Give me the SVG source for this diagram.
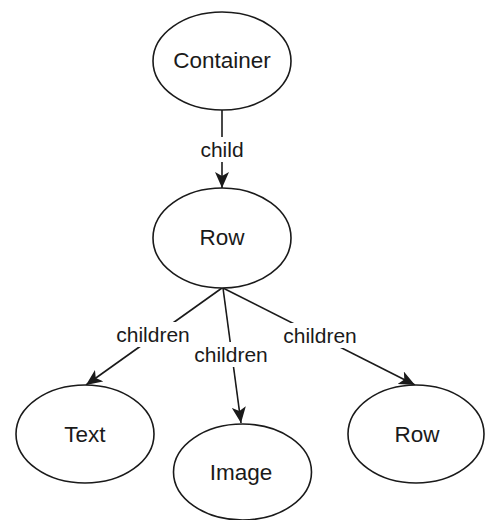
<svg xmlns="http://www.w3.org/2000/svg" width="486" height="520" viewBox="0 0 486 520">
  <style>
    .node ellipse { fill: #ffffff; stroke: #1a1a1a; stroke-width: 1.6; }
    .node text { font-family: "Liberation Sans", Arial, sans-serif; font-size: 22.5px; fill: #1a1a1a; text-anchor: middle; }
    .edge { stroke: #1a1a1a; stroke-width: 1.6; fill: none; marker-end: url(#arrow); }
    .lbl-bg { fill: #ffffff; }
    .lbl { font-family: "Liberation Sans", Arial, sans-serif; font-size: 21px; fill: #1a1a1a; text-anchor: middle; }
  </style>
  <defs>
    <marker id="arrow" markerUnits="userSpaceOnUse" viewBox="0 0 16 14" refX="16" refY="7" markerWidth="16" markerHeight="14" orient="auto">
      <path d="M0,0 L16,7 L0,14 L4,7 Z" fill="#1a1a1a"/>
    </marker>
  </defs>

  <rect width="486" height="520" fill="#ffffff"/>

  <!-- connectors -->
  <g id="connectors">
    <line class="edge" x1="222" y1="110" x2="222" y2="188"/>
    <line class="edge" x1="222" y1="288" x2="86" y2="385"/>
    <line class="edge" x1="223" y1="288" x2="241" y2="423"/>
    <line class="edge" x1="223" y1="288" x2="415" y2="385"/>

    <rect class="lbl-bg" x="198" y="137" width="48" height="25"/>
    <text class="lbl" x="222" y="157">child</text>

    <rect class="lbl-bg" x="114" y="322" width="78" height="25"/>
    <text class="lbl" x="153" y="342">children</text>

    <rect class="lbl-bg" x="193" y="342" width="76" height="25"/>
    <text class="lbl" x="231" y="362">children</text>

    <rect class="lbl-bg" x="281" y="323" width="78" height="25"/>
    <text class="lbl" x="320" y="343">children</text>
  </g>

  <!-- nodes -->
  <g id="node-container" class="node">
    <ellipse cx="222" cy="61" rx="69" ry="49"/>
    <text x="222" y="67.5">Container</text>
  </g>
  <g id="node-row" class="node">
    <ellipse cx="222" cy="238" rx="69" ry="50"/>
    <text x="222" y="245">Row</text>
  </g>
  <g id="node-text" class="node">
    <ellipse cx="85" cy="434" rx="69" ry="49"/>
    <text x="85" y="442">Text</text>
  </g>
  <g id="node-image" class="node">
    <ellipse cx="242.5" cy="472" rx="69" ry="48"/>
    <text x="241" y="480">Image</text>
  </g>
  <g id="node-row-2" class="node">
    <ellipse cx="416" cy="434" rx="68" ry="49"/>
    <text x="417" y="441.5">Row</text>
  </g>
</svg>
